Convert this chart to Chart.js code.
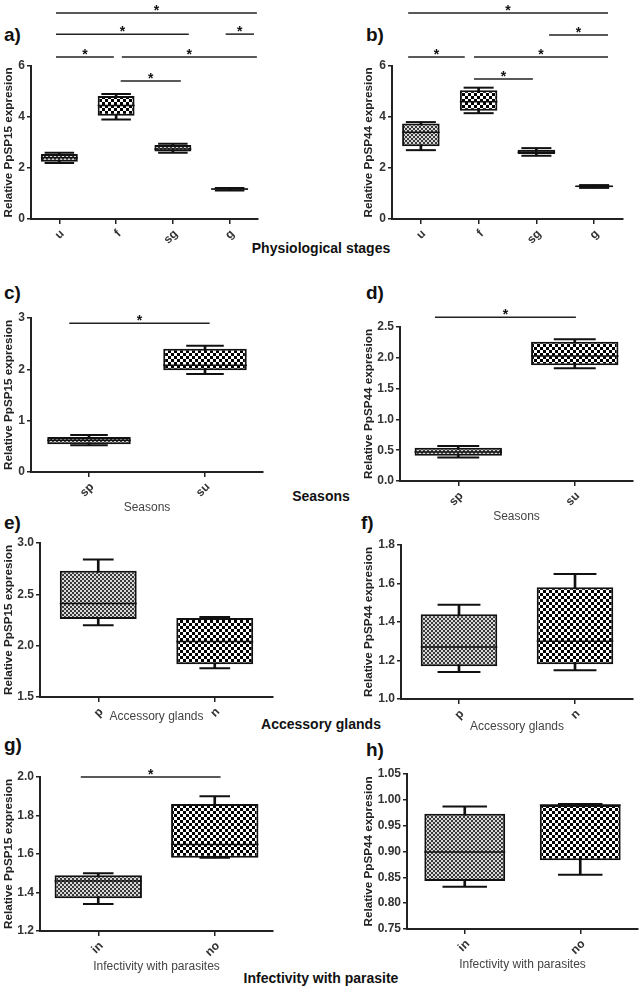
<!DOCTYPE html>
<html lang="en">
<head>
<meta charset="UTF-8">
<title>PpSP15 / PpSP44 expression</title>
<script src="https://cdn.jsdelivr.net/npm/chart.js@4.4.0/dist/chart.umd.min.js"></script>
<style>
    body { margin: 0; background: #fff; }
    #fig { position: relative; width: 642px; height: 992px; overflow: hidden; font-family: "Liberation Sans", Arial, sans-serif; }
    #fig canvas { position: absolute; }
    .lettre { position: absolute; font-weight: bold; font-size: 19px; line-height: 1; color: #111; }
    .groupe { position: absolute; font-weight: bold; font-size: 14px; line-height: 1; color: #111; transform: translateX(-50%); white-space: nowrap; }
</style>
</head>
<body>
<div id="fig">
    <div class="lettre" style="left:4px;top:25px">a)</div>
    <div class="lettre" style="left:366px;top:25px">b)</div>
    <div class="lettre" style="left:4px;top:283px">c)</div>
    <div class="lettre" style="left:366px;top:283px">d)</div>
    <div class="lettre" style="left:4px;top:513px">e)</div>
    <div class="lettre" style="left:361px;top:513px">f)</div>
    <div class="lettre" style="left:4px;top:735px">g)</div>
    <div class="lettre" style="left:366px;top:740px">h)</div>
    <div class="groupe" style="left:321px;top:241px">Physiological stages</div>
    <div class="groupe" style="left:321px;top:489px">Seasons</div>
    <div class="groupe" style="left:321px;top:717px">Accessory glands</div>
    <div class="groupe" style="left:321px;top:971px">Infectivity with parasite</div>
</div>
<script>
    // Donnees (min, Q1, mediane, Q3, max)
    const stadeCats = ['u', 'f', 'sg', 'g'];
    const saisonCats = ['sp', 'su'];
    const glandeCats = ['p', 'n'];
    const infectCats = ['in', 'no'];

    // a) PpSP15 / stades
    const aMin = [2.2, 3.9, 2.6, 1.12];
    const aQ1 = [2.25, 4.05, 2.65, 1.15];
    const aMed = [2.4, 4.45, 2.75, 1.18];
    const aQ3 = [2.55, 4.82, 2.9, 1.2];
    const aMax = [2.6, 4.9, 2.95, 1.22];
    // barres de significativite : [de, a, hauteur]
    const aSig = [[-0.06, 3.48, 8.08], [-0.06, 2.28, 7.25], [2.93, 3.43, 7.25], [-0.06, 0.96, 6.35], [1.10, 3.48, 6.35], [1.08, 2.14, 5.41]];

    // b) PpSP44 / stades
    const bMin = [2.7, 4.15, 2.48, 1.22];
    const bQ1 = [2.85, 4.25, 2.55, 1.25];
    const bMed = [3.4, 4.6, 2.62, 1.28];
    const bQ3 = [3.75, 5.05, 2.72, 1.3];
    const bMax = [3.8, 5.15, 2.78, 1.33];
    const bSig = [[-0.22, 3.24, 8.08], [2.22, 3.24, 7.22], [-0.22, 0.76, 6.35], [0.92, 3.24, 6.35], [0.92, 1.94, 5.49]];

    // c) PpSP15 / saisons
    const cMin = [0.52, 1.91];
    const cQ1 = [0.54, 1.98];
    const cMed = [0.62, 2.08];
    const cQ3 = [0.68, 2.4];
    const cMax = [0.72, 2.46];
    const cSig = [[-0.17, 1.04, 2.9]];

    // d) PpSP44 / saisons
    const dMin = [0.38, 1.83];
    const dQ1 = [0.41, 1.88];
    const dMed = [0.47, 2.03];
    const dQ3 = [0.54, 2.26];
    const dMax = [0.57, 2.3];
    const dSig = [[-0.2, 1.01, 2.66]];

    // e) PpSP15 / glandes
    const eMin = [2.2, 1.78];
    const eQ1 = [2.26, 1.82];
    const eMed = [2.41, 2.04];
    const eQ3 = [2.73, 2.27];
    const eMax = [2.84, 2.28];

    // f) PpSP44 / glandes
    const fMin = [1.14, 1.15];
    const fQ1 = [1.17, 1.18];
    const fMed = [1.27, 1.30];
    const fQ3 = [1.44, 1.58];
    const fMax = [1.49, 1.65];

    // g) PpSP15 / infectivite
    const gMin = [1.34, 1.58];
    const gQ1 = [1.37, 1.58];
    const gMed = [1.46, 1.65];
    const gQ3 = [1.49, 1.86];
    const gMax = [1.5, 1.9];
    const gSig = [[-0.15, 1.05, 2.0]];

    // h) PpSP44 / infectivite
    const hMin = [0.832, 0.855];
    const hQ1 = [0.843, 0.883];
    const hMed = [0.899, 0.99];
    const hQ3 = [0.973, 0.99];
    const hMax = [0.987, 0.992];

    Chart.defaults.font.family = '"Liberation Sans", Arial, sans-serif';

    const titre15 = 'Relative PpSP15 expresion';
    const titre44 = 'Relative PpSP44 expresion';

    // Mise en page de chaque panneau
    const panneaux = [
        { cats: stadeCats, mn: aMin, q1: aQ1, med: aMed, q3: aQ3, mx: aMax, sig: aSig, yMin: 0, yMax: 6, pas: 2, dec: 0,
          yTitre: titre15, xTitre: '', motifs: ['fin', 'gros', 'fin', 'fin'],
          cadre: [0, 0, 321, 260], pad: { left: 2, top: 66, right: 63, bottom: 15 }, yw: 29, xh: 26, bar: 0.65, cap: 0.8 },
        { cats: stadeCats, mn: bMin, q1: bQ1, med: bMed, q3: bQ3, mx: bMax, sig: bSig, yMin: 0, yMax: 6, pas: 2, dec: 0,
          yTitre: titre44, xTitre: '', motifs: ['fin', 'gros', 'sombre', 'fin'],
          cadre: [321, 0, 321, 260], pad: { left: 41, top: 66, right: 19, bottom: 15 }, yw: 30, xh: 26, bar: 0.65, cap: 0.8 },
        { cats: saisonCats, mn: cMin, q1: cQ1, med: cMed, q3: cQ3, mx: cMax, sig: cSig, yMin: 0, yMax: 3, pas: 1, dec: 0,
          yTitre: titre15, xTitre: 'Seasons', motifs: ['fin', 'gros'],
          cadre: [0, 260, 321, 260], pad: { left: 2, top: 58, right: 58, bottom: 5 }, yw: 29, xh: 43, bar: 0.72, cap: 0.45 },
        { cats: saisonCats, mn: dMin, q1: dQ1, med: dMed, q3: dQ3, mx: dMax, sig: dSig, yMin: 0, yMax: 2.5, pas: 0.5, dec: 1,
          yTitre: titre44, xTitre: 'Seasons', motifs: ['fin', 'gros'],
          cadre: [321, 260, 321, 270], pad: { left: 41, top: 67, right: 9, bottom: 6 }, yw: 38, xh: 43, bar: 0.75, cap: 0.48 },
        { cats: glandeCats, mn: eMin, q1: eQ1, med: eMed, q3: eQ3, mx: eMax, sig: [], yMin: 1.5, yMax: 3.0, pas: 0.5, dec: 1,
          yTitre: titre15, xTitre: 'Accessory glands', motifs: ['fin', 'gros'],
          cadre: [0, 500, 321, 230], pad: { left: 2, top: 43, right: 48, bottom: 6 }, yw: 38, xh: 27, bar: 0.66, cap: 0.4 },
        { cats: glandeCats, mn: fMin, q1: fQ1, med: fMed, q3: fQ3, mx: fMax, sig: [], yMin: 1.0, yMax: 1.8, pas: 0.2, dec: 1,
          yTitre: titre44, xTitre: 'Accessory glands', motifs: ['fin', 'gros'],
          cadre: [321, 500, 321, 240], pad: { left: 41, top: 45, right: 9, bottom: 6 }, yw: 39, xh: 35, bar: 0.66, cap: 0.56 },
        { cats: infectCats, mn: gMin, q1: gQ1, med: gMed, q3: gQ3, mx: gMax, sig: gSig, yMin: 1.2, yMax: 2.0, pas: 0.2, dec: 1,
          yTitre: titre15, xTitre: 'Infectivity with parasites', motifs: ['fin', 'gros'],
          cadre: [0, 730, 321, 262], pad: { left: 2, top: 47, right: 48, bottom: 18 }, yw: 38, xh: 43, bar: 0.75, cap: 0.35 },
        { cats: infectCats, mn: hMin, q1: hQ1, med: hMed, q3: hQ3, mx: hMax, sig: [], yMin: 0.75, yMax: 1.05, pas: 0.05, dec: 2,
          yTitre: titre44, xTitre: 'Infectivity with parasites', motifs: ['fin', 'gros'],
          cadre: [321, 730, 321, 262], pad: { left: 41, top: 44, right: 4, bottom: 20 }, yw: 45, xh: 43, bar: 0.7, cap: 0.55 }
    ];

    // Motif en damier pour le remplissage des boites
    let damier = (ctx, cell, c1, c2) => {
        const tuile = document.createElement('canvas');
        tuile.width = tuile.height = cell * 2;
        const g = tuile.getContext('2d');
        g.fillStyle = c2;
        g.fillRect(0, 0, cell * 2, cell * 2);
        g.fillStyle = c1;
        g.fillRect(0, 0, cell, cell);
        g.fillRect(cell, cell, cell, cell);
        return ctx.createPattern(tuile, 'repeat');
    };

    let demiLargeur = (chart, frac) => {
        const x = chart.scales.x;
        return (x.getPixelForValue(1) - x.getPixelForValue(0)) * frac / 2;
    };

    // Traits + etoiles de significativite
    let pluginSig = (lignes) => ({
        id: 'sig',
        afterDatasetsDraw(chart) {
            const { ctx, scales: { x, y } } = chart;
            lignes.forEach(([de, a, v]) => {
                const x1 = x.getPixelForValue(de), x2 = x.getPixelForValue(a), py = y.getPixelForValue(v);
                ctx.save();
                ctx.strokeStyle = '#222';
                ctx.lineWidth = 1.5;
                ctx.beginPath();
                ctx.moveTo(x1, py);
                ctx.lineTo(x2, py);
                ctx.stroke();
                ctx.fillStyle = '#111';
                ctx.font = 'bold 14px "Liberation Sans", Arial, sans-serif';
                ctx.textAlign = 'center';
                ctx.textBaseline = 'alphabetic';
                ctx.fillText('*', (x1 + x2) / 2, py + 2);
                ctx.restore();
            });
        }
    });

    const police = { family: '"Liberation Sans", Arial, sans-serif', size: 12, weight: 'bold' };
    const policeTitre = { family: '"Liberation Sans", Arial, sans-serif', size: 11.7, weight: 'bold' };

    panneaux.forEach(p => {
        const [L, T, W, H] = p.cadre;
        const canvas = document.createElement('canvas');
        canvas.width = W;
        canvas.height = H;
        canvas.style.left = L + 'px';
        canvas.style.top = T + 'px';
        document.getElementById('fig').appendChild(canvas);
        const ctx = canvas.getContext('2d');

        const motifs = {
            fin: damier(ctx, 2, '#3a3a3a', '#d8d8d8'),
            gros: damier(ctx, 3, '#000', '#fff'),
            sombre: damier(ctx, 2, '#000', '#555')
        };

        const pointLigne = (data, frac, ep) => ({
            type: 'line', data: data, showLine: false, pointStyle: 'line',
            pointRadius: c => demiLargeur(c.chart, frac), pointHoverRadius: c => demiLargeur(c.chart, frac),
            pointBorderWidth: ep, pointBorderColor: '#111', pointBackgroundColor: '#111', borderColor: '#111', order: 0
        });

        new Chart(ctx, {
            type: 'bar',
            data: {
                labels: p.cats,
                datasets: [
                    pointLigne(p.med, p.bar, 1.5),
                    pointLigne(p.mn, p.bar * p.cap, 2),
                    pointLigne(p.mx, p.bar * p.cap, 2),
                    {
                        type: 'bar', data: p.cats.map((c, i) => [p.q1[i], p.q3[i]]),
                        backgroundColor: p.motifs.map(m => motifs[m]), borderColor: '#111', borderWidth: 2,
                        borderSkipped: false, barPercentage: p.bar, categoryPercentage: 1, grouped: false, order: 1
                    },
                    {
                        type: 'bar', data: p.cats.map((c, i) => [p.mn[i], p.mx[i]]),
                        backgroundColor: '#111', barThickness: 2, grouped: false, order: 2
                    }
                ]
            },
            options: {
                responsive: false,
                animation: false,
                devicePixelRatio: 1,
                layout: { padding: p.pad },
                plugins: { legend: { display: false }, tooltip: { enabled: false } },
                scales: {
                    x: {
                        offset: true,
                        afterFit: s => { s.height = p.xh; },
                        ticks: { minRotation: 45, maxRotation: 45, autoSkip: false, padding: 3, labelOffset: 3, color: '#333', font: police },
                        grid: { offset: false, drawOnChartArea: false, drawTicks: true, tickLength: 5, color: '#222', lineWidth: 1.5 },
                        border: { color: '#222', width: 2 },
                        title: { display: p.xTitre !== '', text: p.xTitre, color: '#444', font: { size: 12 }, padding: 0 }
                    },
                    y: {
                        min: p.yMin,
                        max: p.yMax,
                        afterFit: s => { s.width = p.yw; },
                        ticks: { stepSize: p.pas, autoSkip: false, padding: 2, color: '#333', font: police,
                                 callback: v => Number(v).toFixed(p.dec) },
                        grid: { drawOnChartArea: false, drawTicks: true, tickLength: 4, color: '#222', lineWidth: 1.5 },
                        border: { color: '#222', width: 2 },
                        title: { display: true, text: p.yTitre, color: '#222', font: policeTitre, padding: 0 }
                    }
                }
            },
            plugins: [pluginSig(p.sig)]
        });
    });
</script>
</body>
</html>
